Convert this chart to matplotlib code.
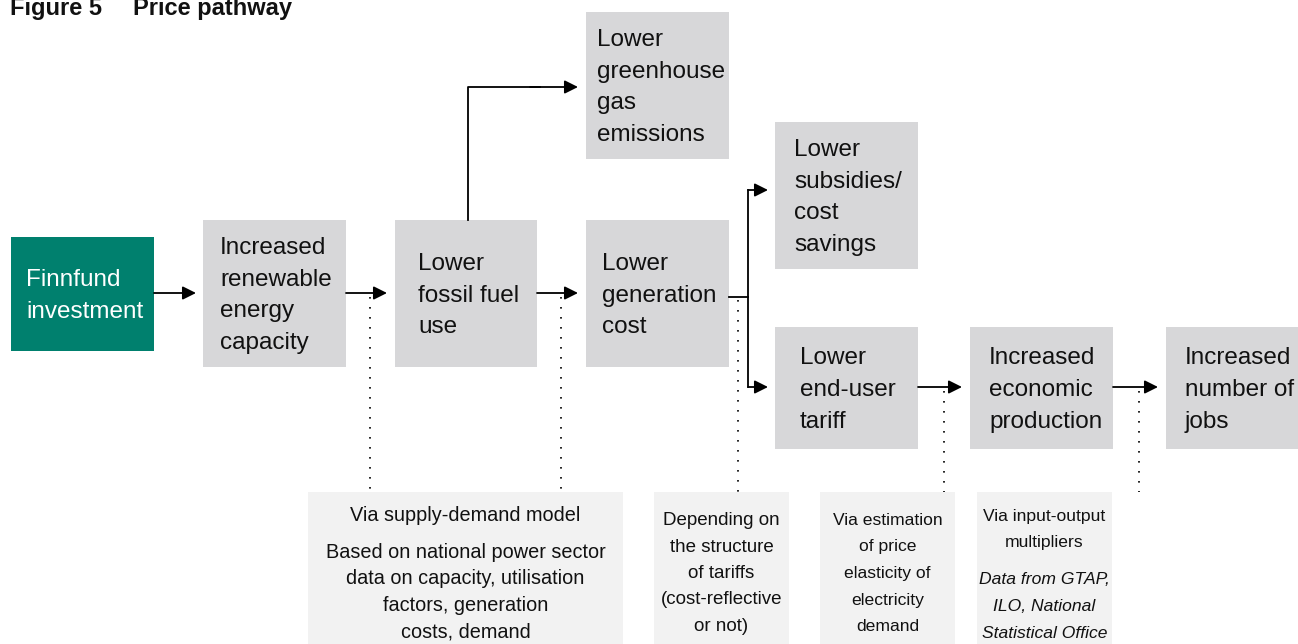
import matplotlib.pyplot as plt
from matplotlib.patches import Rectangle

plt.rcParams['font.family'] = ['Liberation Sans', 'DejaVu Sans']

# texts of the chart
title_num = 'Figure 5'
title_txt = 'Price pathway'
start_label = ['Finnfund', 'investment']
step_labels = [['Increased', 'renewable', 'energy', 'capacity'],
               ['Lower', 'fossil fuel', 'use'],
               ['Lower', 'generation', 'cost'],
               ['Lower', 'greenhouse', 'gas', 'emissions'],
               ['Lower', 'subsidies/', 'cost', 'savings'],
               ['Lower', 'end-user', 'tariff'],
               ['Increased', 'economic', 'production'],
               ['Increased', 'number of', 'jobs']]
note_heads = [['Via supply-demand model'],
              ['Depending on', 'the structure', 'of tariffs', '(cost-reflective', 'or not)'],
              ['Via estimation', 'of price', 'elasticity of', 'electricity', 'demand'],
              ['Via input-output', 'multipliers']]
note_bodies = [['Based on national power sector', 'data on capacity, utilisation',
                'factors, generation', 'costs, demand'],
               [], [],
               ['Data from GTAP,', 'ILO, National', 'Statistical Office']]
body_italic = [False, False, False, True]

# layout in pixels: x0, y0, x1, y1, text x
start_box = (11, 237, 154, 351, 26)
step_boxes = [(203, 220, 346, 367, 220),
              (395, 220, 537, 367, 418),
              (586, 220, 729, 367, 602),
              (586, 12, 729, 159, 597),
              (775, 122, 918, 269, 794),
              (775, 327, 918, 449, 800),
              (970, 327, 1113, 449, 989),
              (1166, 327, 1310, 449, 1185)]
note_boxes = [(308, 492, 623, 660),
              (654, 492, 789, 660),
              (820, 492, 955, 660),
              (977, 492, 1112, 660)]
note_first = [521, 525, 525, 521]
note_size = [14.3, 13.5, 12.6, 12.6]

green = '#00806e'
grey = '#d7d7d9'
light = '#f2f2f2'
ink = '#111111'

fig = plt.figure(figsize=(12.98, 6.44), dpi=100)
ax = fig.add_axes([0, 0, 1, 1])
ax.set_xlim(0, 1298)
ax.set_ylim(644, 0)
ax.axis('off')


def box(x0, y0, x1, y1, fc):
    ax.add_patch(Rectangle((x0, y0), x1 - x0, y1 - y0, fc=fc, ec='none', zorder=1))


def lines(x, yc, rows, color, size=17.5, pitch=31.7):
    n = len(rows)
    for i, r in enumerate(rows):
        y = yc + (i - (n - 1) / 2) * pitch + 8
        ax.text(x, y, r, color=color, fontsize=size, ha='left',
                va='baseline', zorder=3)


x0, y0, x1, y1, tx = start_box
box(x0, y0, x1, y1, green)
lines(tx, (y0 + y1) / 2, start_label, 'white')

for lab, (x0, y0, x1, y1, tx) in zip(step_labels, step_boxes):
    box(x0, y0, x1, y1, grey)
    lines(tx, (y0 + y1) / 2, lab, ink)

for head, body, ital, y_first, fs, (x0, y0, x1, y1) in zip(
        note_heads, note_bodies, body_italic, note_first, note_size, note_boxes):
    box(x0, y0, x1, y1, light)
    cx = (x0 + x1) / 2
    y = y_first
    for r in head:
        ax.text(cx, y, r, color=ink, fontsize=fs, ha='center',
                va='baseline', zorder=3)
        y += 26.5
    y += 10.5
    for r in body:
        ax.text(cx, y, r, color=ink, fontsize=fs, ha='center',
                va='baseline', style='italic' if ital else 'normal', zorder=3)
        y += 26.5

# arrows
arw = dict(arrowstyle='-|>', lw=1.3, color='black', mutation_scale=20,
           shrinkA=0, shrinkB=0)


def arrow(xa, ya, xb, yb):
    ax.annotate('', xy=(xb, yb), xytext=(xa, ya), arrowprops=arw, zorder=4)


arrow(154, 293, 196, 293)
arrow(346, 293, 387, 293)
arrow(537, 293, 578, 293)
ax.plot([468, 468, 540], [220, 87, 87], color='black', lw=1.3, zorder=4)
arrow(530, 87, 578, 87)
ax.plot([729, 748], [297, 297], color='black', lw=1.3, zorder=4)
ax.plot([748, 748], [190, 387], color='black', lw=1.3, zorder=4)
arrow(748, 190, 768, 190)
arrow(748, 387, 768, 387)
arrow(918, 387, 962, 387)
arrow(1113, 387, 1158, 387)

# dotted leaders down to the notes
for xd, ytop in [(370, 297), (561, 297), (738, 300), (944, 391), (1139, 391)]:
    ax.plot([xd, xd], [ytop, 492], color='black', lw=1.2,
            linestyle=(0, (1, 5)), zorder=2)

ax.text(10, 15, title_num, color=ink, fontsize=17, fontweight='bold',
        ha='left', va='baseline')
ax.text(133, 15, title_txt, color=ink, fontsize=17, fontweight='bold',
        ha='left', va='baseline')

fig.savefig('out.png', dpi=100)
